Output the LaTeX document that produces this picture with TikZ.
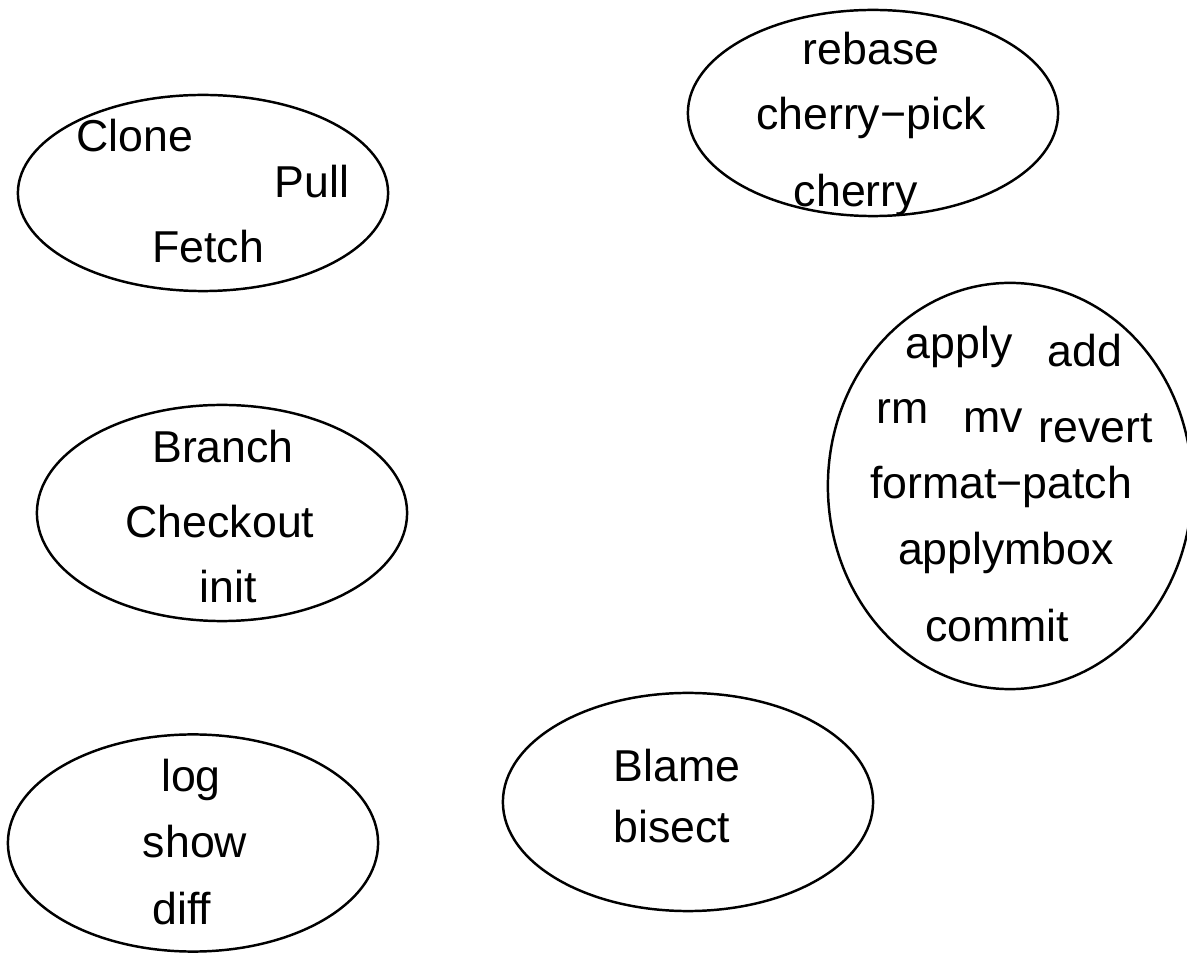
\documentclass[tikz,border=0pt]{standalone}
\usepackage{fontspec}
\setmainfont{Liberation Sans}
\usetikzlibrary{shapes.geometric}
\begin{document}
\begin{tikzpicture}[x=0.01cm,y=-0.01cm,
  grp/.style={draw, ellipse, line width=0.7pt, inner sep=0pt},
  lbl/.style={anchor=base, inner sep=0pt, font=\fontsize{12.7}{15}\selectfont}]
\useasboundingbox (0,0) rectangle (1187,955);
\clip (0,0) rectangle (1187,955);
% groups
\node[grp, minimum width=3.70cm, minimum height=1.96cm] (g1) at (203,193) {};
\node[grp, minimum width=3.70cm, minimum height=2.06cm] (g2) at (873,113) {};
\node[grp, minimum width=3.64cm, minimum height=4.06cm] (g3) at (1010,486) {};
\node[grp, minimum width=3.70cm, minimum height=2.16cm] (g4) at (222,513) {};
\node[grp, minimum width=3.70cm, minimum height=2.17cm] (g5) at (193,843) {};
\node[grp, minimum width=3.70cm, minimum height=2.18cm] (g6) at (688,802) {};
% labels group 1
\node[lbl] (clone) at (135,152) {Clone};
\node[lbl] (pull) at (312,198) {Pull};
\node[lbl] (fetch) at (208,263) {Fetch};
% group 2
\node[lbl] (rebase) at (871,65) {rebase};
\node[lbl] (cpick) at (871,130) {cherry−pick};
\node[lbl] (cherry) at (856,207) {cherry};
% group 3
\node[lbl] (apply) at (959,359) {apply};
\node[lbl] (add) at (1085,367) {add};
\node[lbl] (rm) at (903,424) {rm};
\node[lbl] (mv) at (993,433) {mv};
\node[lbl] (revert) at (1096,443) {revert};
\node[lbl] (fpatch) at (1001,499) {format−patch};
\node[lbl] (amb) at (1006,565) {applymbox};
\node[lbl] (commit) at (997,642) {commit};
% group 4
\node[lbl] (branch) at (223,463) {Branch};
\node[lbl] (checkout) at (220,538) {Checkout};
\node[lbl] (init) at (228,603) {init};
% group 5
\node[lbl] (log) at (191,792) {log};
\node[lbl] (show) at (195,858) {show};
\node[lbl] (diff) at (182,925) {diff};
% group 6
\node[lbl] (blame) at (677,782) {Blame};
\node[lbl] (bisect) at (672,843) {bisect};
\end{tikzpicture}
\end{document}
